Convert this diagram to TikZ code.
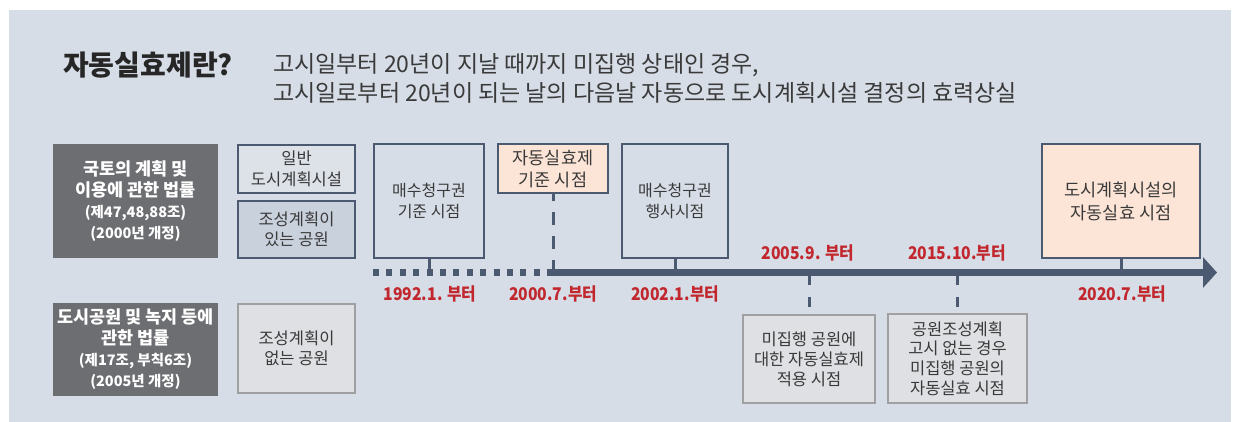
\documentclass[tikz,border=0pt]{standalone}
\usepackage{fontspec}
\setmainfont{Noto Sans CJK KR}
\newfontfamily\cond[FakeStretch=0.9]{Noto Sans CJK KR}
\usetikzlibrary{arrows.meta}
\definecolor{panel}{HTML}{D6DDE7}
\definecolor{dkgray}{HTML}{6D6E72}
\definecolor{bluegray}{HTML}{4B5A70}
\definecolor{lightfill}{HTML}{DDE1E8}
\definecolor{midfill}{HTML}{C9D1DD}
\definecolor{peach}{HTML}{FCE4D6}
\definecolor{grayfill}{HTML}{DFE0E3}
\definecolor{grayline}{HTML}{A0A0A2}
\definecolor{labred}{HTML}{C1272D}
\definecolor{txt}{HTML}{3A3A3A}
\tikzset{
  darkbox/.style={fill=dkgray, draw=none, text=white, align=center, inner sep=0pt, font=\bfseries\fontsize{17.5}{21}\selectfont},
  bbox/.style={draw=bluegray, line width=1.3pt, text=txt, align=center, inner sep=0pt, font=\fontsize{16.5}{20.5}\selectfont},
  gbox/.style={draw=grayline, line width=1.3pt, fill=grayfill, text=txt, align=center, inner sep=0pt, font=\fontsize{16.5}{20}\selectfont},
  redlab/.style={text=labred, font=\cond\bfseries\fontsize{17.5}{17.5}\selectfont, inner sep=0pt},
  tick/.style={draw=bluegray, line width=3pt},
  vdash/.style={draw=bluegray, line width=3pt, dash pattern=on 12.5pt off 11pt},
  mainline/.style={draw=bluegray, line width=7pt},
}
\begin{document}
\begin{tikzpicture}[x=1pt, y=-1pt]
\useasboundingbox (0,0) rectangle (1239,422);
\fill[panel] (9,10) rectangle (1231,422);

% title
\node[anchor=west, text=black!85, font=\bfseries\fontsize{28}{28}\selectfont, inner sep=0pt] (title) at (63,65) {자동실효제란?};
\node[anchor=west, text=txt, font=\fontsize{23}{28.5}\selectfont, align=left, inner sep=0pt] (sub) at (273,78.5)
  {고시일부터 20년이 지날 때까지 미집행 상태인 경우,\\고시일로부터 20년이 되는 날의 다음날 자동으로 도시계획시설 결정의 효력상실};

% left law boxes
\node[darkbox, minimum width=165pt, minimum height=114pt] (b1) at (135.5,201)
  {국토의 계획 및\\이용에 관한 법률\\\fontsize{14.5}{21}\selectfont (제47,48,88조)\\\fontsize{14.5}{15.5}\selectfont (2000년 개정)};
\node[darkbox, minimum width=165pt, minimum height=93pt] (b4) at (135.5,349.5)
  {도시공원 및 녹지 등에\\관한 법률\\\fontsize{14.5}{20}\selectfont (제17조, 부칙6조)\\\fontsize{14.5}{17}\selectfont (2005년 개정)};

\node[bbox, fill=lightfill, minimum width=117pt, minimum height=48pt] (b2) at (296.5,169) {일반\\도시계획시설};
\node[bbox, fill=midfill, minimum width=117pt, minimum height=57pt] (b3) at (296.5,229.5) {조성계획이\\있는 공원};
\node[gbox, minimum width=117pt, minimum height=89pt] (b5) at (296.5,348.5) {조성계획이\\없는 공원};

% upper timeline boxes
\node[bbox, font=\fontsize{16}{20.5}\selectfont, minimum width=110pt, minimum height=114pt] (m1) at (429,201) {매수청구권\\기준 시점};
\node[bbox, fill=peach, font=\fontsize{17.5}{22}\selectfont, minimum width=110pt, minimum height=49pt] (m2) at (553,168.5) {자동실효제\\기준 시점};
\node[bbox, font=\fontsize{16}{20.5}\selectfont, minimum width=106pt, minimum height=114pt] (m3) at (675,201) {매수청구권\\행사시점};
\node[bbox, fill=peach, font=\fontsize{17.5}{23}\selectfont, minimum width=158pt, minimum height=114pt] (r1) at (1121,201) {도시계획시설의\\자동실효 시점};

% lower boxes
\node[gbox, minimum width=132pt, minimum height=88pt] (d1) at (809,359) {미집행 공원에\\대한 자동실효제\\적용 시점};
\node[gbox, font=\fontsize{16.5}{19.7}\selectfont, minimum width=139pt, minimum height=89pt] (d2) at (957.5,358.5) {공원조성계획\\고시 없는 경우\\미집행 공원의\\자동실효 시점};

% timeline
\coordinate (t0) at (373,272.5);
\coordinate (t1) at (548,272.5);
\coordinate (tend) at (1217,272.5);
\draw[mainline, dash pattern=on 6pt off 7.4pt] (t0) -- (t1);
\draw[mainline, -{Triangle[length=14pt, width=30pt]}] (t1) -- (tend);

\draw[tick] (m1.south) -- (m1.south |- t1);
\draw[tick] (m3.south) -- (m3.south |- t1);
\draw[tick] (r1.south) -- (r1.south |- t1);
\coordinate (v0) at (553,272);
\draw[vdash] (v0) -- (m2.south);
\coordinate (c1) at (809,275);
\coordinate (c2) at (957.5,275);
\draw[tick, dash pattern=on 10pt off 12pt] (c1) -- ([yshift=4pt]d1.north);
\draw[tick, dash pattern=on 10pt off 12pt] (c2) -- ([yshift=4pt]d2.north);

% date labels
\node[redlab] (l1) at (430,294) {1992.1. 부터};
\node[redlab] (l2) at (553,294) {2000.7.부터};
\node[redlab] (l3) at (675,294) {2002.1.부터};
\node[redlab] (l4) at (808,253) {2005.9. 부터};
\node[redlab] (l5) at (957,253) {2015.10.부터};
\node[redlab] (l6) at (1122,294) {2020.7.부터};
\end{tikzpicture}
\end{document}
